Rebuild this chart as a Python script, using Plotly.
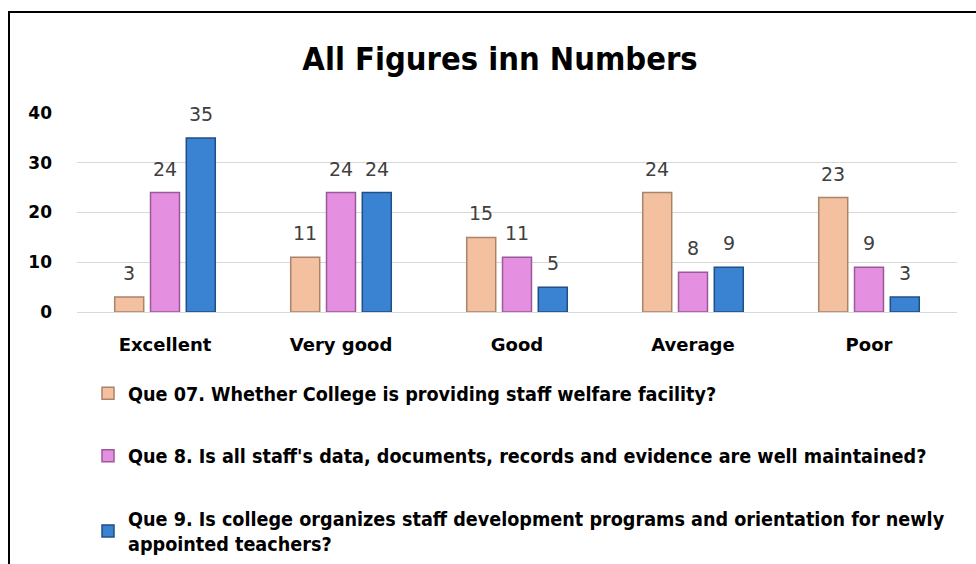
import plotly.graph_objects as go

categories = ["Excellent", "Very good", "Good", "Average", "Poor"]
series_names = [
    "Que 07. Whether College is providing staff welfare facility?",
    "Que 8. Is all staff's data, documents, records and evidence are well maintained?",
    "Que 9. Is college organizes staff development programs and orientation for newly<br>appointed teachers?",
]
que07 = [3, 11, 15, 24, 23]
que08 = [24, 24, 11, 8, 9]
que09 = [35, 24, 5, 9, 3]
y_ticks = [0, 10, 20, 30, 40]

colors = ["#F3C1A0", "#E48FE0", "#3A83D2"]
edge_colors = ["#A9836A", "#9A5A98", "#1F4F86"]

W, H = 976, 564
L, R, T, B = 77, 19, 113, 252
pw, ph = W - L - R, H - T - B
BARGAP, GROUPGAP = 0.39, 0.19
slot_px = (1 - BARGAP) * pw / len(categories) / 3

COND = "Liberation Sans Narrow, DejaVu Sans Condensed, Arial Narrow, sans-serif"
WIDE = "DejaVu Sans, sans-serif"

fig = go.Figure()
annotations = []
all_series = [que07, que08, que09]
for i, (name, vals) in enumerate(zip(series_names, all_series)):
    fig.add_trace(go.Bar(
        x=categories, y=vals, name=name,
        marker=dict(color=colors[i], line=dict(color=edge_colors[i], width=1.5)),
        cliponaxis=False,
        legendgroup=f"g{i}",
    ))
    for c, v in zip(categories, vals):
        annotations.append(dict(
            x=c, y=v, xref="x", yref="y", text=str(v), showarrow=False,
            xshift=(i - 1) * slot_px, yshift=24, yanchor="middle", xanchor="center",
            font=dict(family=WIDE, size=19, color="#404040"),
        ))

fig.update_layout(
    width=W, height=H,
    margin=dict(l=L, r=R, t=T, b=B, autoexpand=False),
    paper_bgcolor="white", plot_bgcolor="white",
    barmode="group", bargap=BARGAP, bargroupgap=GROUPGAP,
    title=dict(text="<b>All Figures inn Numbers</b>", x=500 / W, xref="container", xanchor="center",
               y=1 - 59 / H, yref="container", yanchor="middle",
               font=dict(family=COND, size=32.4, color="#000000")),
    xaxis=dict(showgrid=False, showline=False, ticks="", ticklabelstandoff=20,
               tickfont=dict(family=WIDE, size=18, color="#000000", weight="bold")),
    yaxis=dict(range=[0, 40], tickvals=y_ticks, showgrid=True, gridcolor="#d9d9d9", gridwidth=1,
               zeroline=True, zerolinecolor="#d9d9d9", zerolinewidth=1, showline=False,
               ticklabelstandoff=24,
               tickfont=dict(family=WIDE, size=17, color="#000000", weight="bold")),
    showlegend=True,
    legend=dict(orientation="v", xref="container", yref="container",
                x=88 / W, xanchor="left", y=1 - 374 / H, yanchor="top",
                tracegroupgap=34, bgcolor="rgba(0,0,0,0)",
                font=dict(family=COND, size=19.6, color="#000000", weight="bold"),
                itemwidth=30),
    annotations=annotations,
    shapes=[dict(type="rect", xref="paper", yref="paper",
                 x0=(9 - L) / pw, x1=(W + 20 - L) / pw,
                 y0=(312 - (H + 20)) / ph, y1=(312 - 12) / ph,
                 line=dict(color="#000000", width=2), fillcolor="rgba(0,0,0,0)", layer="below")],
)

fig.write_html("out.html", config={"displayModeBar": False},
               post_script="document.body.style.margin='0';document.body.style.overflow='hidden';")
